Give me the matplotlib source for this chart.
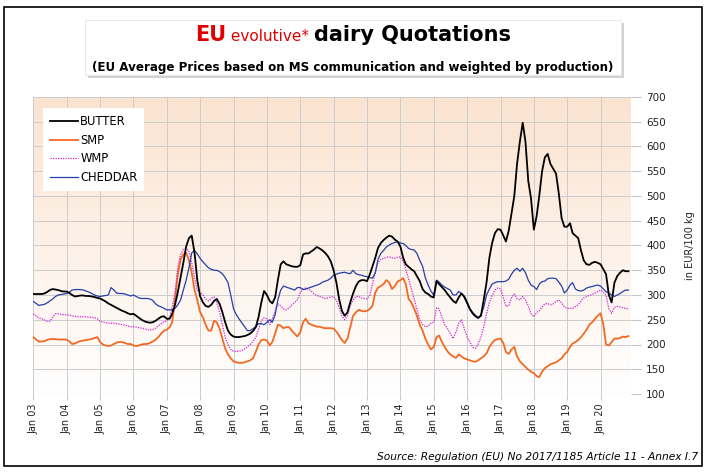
import numpy as np
import pandas as pd
import matplotlib
matplotlib.use('Agg')
import matplotlib.pyplot as plt
from matplotlib.patches import Rectangle

# monthly averages, Jan 2003 .. Nov 2020 (EUR/100 kg)
months = pd.date_range('2003-01-01', '2020-11-01', freq='MS')

butter = [
    302, 302, 302, 302, 303, 306, 310, 312, 311, 310, 308, 307,   # 2003
    307, 304, 300, 297, 298, 299, 299, 298, 298, 297, 296, 294,   # 2004
    293, 290, 287, 283, 280, 277, 274, 271, 268, 266, 263, 261,   # 2005
    262, 258, 254, 250, 247, 245, 244, 245, 248, 252, 256, 257,   # 2006
    252, 252, 262, 280, 305, 335, 365, 398, 415, 420, 385, 330,   # 2007
    297, 285, 278, 276, 280, 288, 292, 282, 265, 245, 228, 220,   # 2008
    216, 215, 215, 216, 217, 219, 222, 227, 235, 255, 285, 308,   # 2009
    300, 288, 283, 295, 330, 362, 368, 362, 360, 358, 357, 357,   # 2010
    360, 382, 384, 384, 388, 392, 397, 394, 390, 385, 378, 368,   # 2011
    350, 325, 292, 268, 258, 265, 285, 303, 318, 327, 330, 330,   # 2012
    328, 342, 358, 375, 395, 405, 411, 416, 420, 418, 412, 408,   # 2013
    398, 375, 362, 357, 352, 348, 338, 328, 312, 305, 302, 297,   # 2014
    295, 328, 322, 316, 310, 302, 295, 288, 284, 295, 303, 297,   # 2015
    285, 272, 264, 258, 254, 258, 290, 325, 375, 405, 425, 433,   # 2016
    432, 420, 408, 430, 465, 500, 565, 610, 648, 610, 530, 495,   # 2017
    432, 460, 500, 550, 578, 585, 565, 555, 545, 505, 455, 438,   # 2018
    438, 445, 425, 420, 415, 390, 370, 362, 361, 365, 367, 365,   # 2019
    362, 352, 342, 300, 285, 325, 338, 345, 350, 348, 348,        # 2020
]

smp = [
    215, 210, 206, 206, 207, 209, 211, 211, 211, 210, 210, 210,
    210, 206, 201, 202, 205, 207, 208, 209, 210, 211, 213, 215,
    205, 200, 198, 197, 198, 201, 204, 205, 205, 203, 201, 201,
    198, 197, 198, 200, 201, 201, 203, 206, 210, 215, 222, 228,
    230, 235, 245, 290, 340, 372, 382, 385, 370, 345, 310, 290,
    265, 255, 240, 228, 228, 248, 245, 232, 212, 192, 180, 172,
    166, 164, 163, 163, 164, 166, 168, 172, 185, 200, 209, 210,
    208, 198, 205, 222, 240, 238, 233, 235, 235, 228, 222, 216,
    225, 245, 252, 243, 240, 238, 236, 236, 234, 233, 233, 233,
    232, 226, 218, 209, 203, 212, 235, 258, 265, 270, 268, 267,
    268, 272, 278, 305, 315, 318, 322, 330, 325, 312, 318, 327,
    330, 334, 322, 292, 285, 272, 258, 240, 228, 212, 200, 190,
    195, 215, 218, 205, 195, 186, 180, 176, 173, 180, 176, 172,
    170, 168, 166, 165, 168, 172, 176, 182, 195, 203, 209, 211,
    212, 203, 185, 181, 190, 195, 176, 166, 160, 155, 149, 145,
    142, 136, 134, 145, 152, 156, 160, 162, 164, 168, 172, 180,
    185, 195, 202, 205, 209, 215, 222, 230, 240, 245, 252, 258,
    263, 240, 200, 198, 205, 212, 212, 213, 216, 215, 217,
]

wmp = [
    262, 258, 254, 252, 250, 247, 247, 255, 262, 262, 261, 260,
    260, 259, 258, 257, 256, 256, 256, 256, 255, 255, 254, 252,
    247, 245, 244, 243, 243, 243, 242, 241, 240, 239, 237, 236,
    236, 235, 234, 233, 232, 230, 229, 230, 233, 238, 242, 246,
    248, 255, 275, 305, 355, 382, 392, 394, 388, 365, 335, 310,
    305, 300, 292, 288, 293, 296, 285, 265, 240, 215, 200, 190,
    186, 186, 186, 188, 191, 195, 200, 206, 214, 230, 248, 254,
    252, 240, 252, 268, 282, 278, 272, 270, 274, 280, 285, 290,
    305, 312, 314, 312, 308, 302, 299, 297, 295, 293, 294, 296,
    297, 290, 275, 258, 250, 258, 278, 290, 297, 297, 294, 293,
    292, 300, 322, 345, 365, 372, 374, 376, 377, 375, 374, 376,
    377, 368, 352, 332, 312, 292, 270, 250, 240, 236, 237, 243,
    245, 274, 272, 255, 240, 232, 222, 212, 225, 243, 250, 232,
    215, 205, 195, 192, 200, 215, 235, 262, 285, 298, 310, 314,
    312, 295, 277, 278, 295, 302, 293, 290, 297, 290, 278, 262,
    256, 265, 268, 276, 282, 283, 280, 282, 287, 290, 284, 276,
    273, 273, 273, 277, 280, 288, 294, 297, 299, 301, 304, 307,
    310, 306, 300, 272, 263, 275, 277, 276, 274, 273, 272,
]

cheddar = [
    287, 283, 279, 280, 281, 284, 288, 292, 297, 300, 301, 302,
    303, 306, 310, 311, 311, 311, 310, 308, 306, 303, 300, 298,
    297, 298, 299, 300, 315, 310, 304, 303, 303, 302, 300, 298,
    300, 297, 294, 293, 293, 293, 292, 289, 282, 278, 276, 273,
    270, 270, 270, 273, 280, 290, 310, 330, 355, 385, 390, 383,
    374, 367, 361, 355, 352, 350, 350, 347, 343, 335, 325, 300,
    272, 260, 252, 244, 236, 228, 228, 232, 236, 242, 242, 240,
    245, 250, 245, 260, 290, 310, 318, 316, 314, 312, 310, 315,
    315, 311, 312, 314, 316, 318, 320, 322, 326, 328, 330, 334,
    340, 342, 344, 345, 346, 344, 343, 350, 343, 341, 340, 338,
    337, 335, 334, 345, 372, 384, 390, 397, 401, 404, 406, 408,
    405, 404, 400, 394, 392, 391, 384, 370, 358, 335, 320, 308,
    300, 330, 326, 320, 316, 313, 310, 300, 300, 307, 303, 295,
    283, 270, 262, 256, 253, 260, 275, 300, 312, 322, 325, 327,
    327, 327, 328, 332, 342, 350, 354, 348, 354, 345, 330, 320,
    317, 311, 322, 327, 328, 333, 334, 334, 333, 326, 318, 304,
    310, 320, 325, 312, 309, 308, 310, 314, 316, 317, 319, 320,
    318, 312, 307, 304, 300, 297, 300, 303, 307, 310, 310,
]

year_ticks = pd.date_range('2003-01-01', '2020-01-01', freq='YS')
tick_labels = ['Jan %02d' % (d.year % 100) for d in year_ticks]

fig = plt.figure(figsize=(7.11, 4.76), dpi=100)
ax = fig.add_axes([33.3 / 711, 1 - 394 / 476, (630.7 - 33.3) / 711, (394 - 97) / 476])

# peach-to-white background
grad = np.linspace(0, 1, 256).reshape(-1, 1)
top = np.array([251, 227, 208]) / 255
bot = np.array([255, 255, 255]) / 255
img = top[None, None, :] * (1 - grad[:, :, None]) + bot[None, None, :] * grad[:, :, None]
ax.imshow(img, extent=[0, 1, 0, 1], transform=ax.transAxes, aspect='auto', zorder=0)

ax.plot(months, butter, color='black', lw=1.3, label='BUTTER', zorder=5)
ax.plot(months, smp, color='#f26a22', lw=1.3, label='SMP', zorder=3)
ax.plot(months, wmp, color='#d020d8', lw=0.9, ls=(0, (1, 1)), label='WMP', zorder=4)
ax.plot(months, cheddar, color='#2440a8', lw=0.9, label='CHEDDAR', zorder=4)

ax.set_xlim(pd.Timestamp('2003-01-01'), pd.Timestamp('2020-11-26'))
ax.set_ylim(100, 700)
ax.set_yticks(range(100, 701, 50))
ax.set_xticks(year_ticks)
ax.set_xticklabels(tick_labels, rotation=90, fontsize=7, color='#222222')
ax.yaxis.tick_right()
ax.tick_params(axis='y', labelsize=7.5, colors='#c8c8c8', labelcolor='#222222', length=7, pad=4)
ax.tick_params(axis='x', colors='#c8c8c8', labelcolor='#222222', length=4, pad=3)
ax.grid(True, color='#cccccc', lw=0.7)
ax.set_axisbelow(True)
for s in ax.spines.values():
    s.set_visible(False)
ax.axhline(100, color='#c8c8c8', lw=0.8, zorder=1)

ax.yaxis.set_label_position('right')
ax.set_ylabel('in EUR/100 kg', fontsize=7, color='#222222', labelpad=14)

leg = ax.legend(loc='upper left', bbox_to_anchor=(10 / 597, 1 - 11 / 297), fontsize=8.3,
                frameon=True, fancybox=False, handlelength=2.4, handletextpad=0.2,
                labelspacing=0.5, borderpad=0.6, borderaxespad=0)
leg.get_frame().set_edgecolor('white')
leg.get_frame().set_linewidth(0)
leg.get_frame().set_facecolor('white')
leg.get_frame().set_alpha(1)

# outer border
fig.patches.append(Rectangle((4 / 711, 1 - 466 / 476), 698 / 711, 459 / 476, transform=fig.transFigure,
                             fill=False, edgecolor='black', lw=1.2))
# title box with soft shadow
fig.patches.append(Rectangle((88 / 711, 1 - 78 / 476), 536 / 711, 55 / 476, transform=fig.transFigure,
                             facecolor='#d2d2d2', edgecolor='none'))
fig.patches.append(Rectangle((85 / 711, 1 - 75 / 476), 536 / 711, 55 / 476, transform=fig.transFigure,
                             facecolor='white', edgecolor='#e6e6e6', lw=0.6))

# title made of three pieces
renderer = fig.canvas.get_renderer()
ty = 1 - 41 / 476
parts = [('EU', '#e00000', 15, 'bold'), (' evolutive* ', '#e00000', 11, 'normal'),
         ('dairy Quotations', 'black', 15, 'bold')]
texts = []
for s, c, fs, fw in parts:
    texts.append(fig.text(0, ty, s, color=c, fontsize=fs, fontweight=fw, va='baseline'))
widths = [t.get_window_extent(renderer).width for t in texts]
x0 = (353 - sum(widths) / 2) / 711
for t, w in zip(texts, widths):
    t.set_x(x0)
    x0 += w / 711

fig.text(353 / 711, 1 - 68 / 476, '(EU Average Prices based on MS communication and weighted by production)',
         fontsize=8.6, fontweight='bold', ha='center', va='center')
fig.text(698 / 711, 1 - 457 / 476, 'Source: Regulation (EU) No 2017/1185 Article 11 - Annex I.7',
         fontsize=7.7, style='italic', ha='right', va='center')

fig.savefig('out.png', dpi=100)
